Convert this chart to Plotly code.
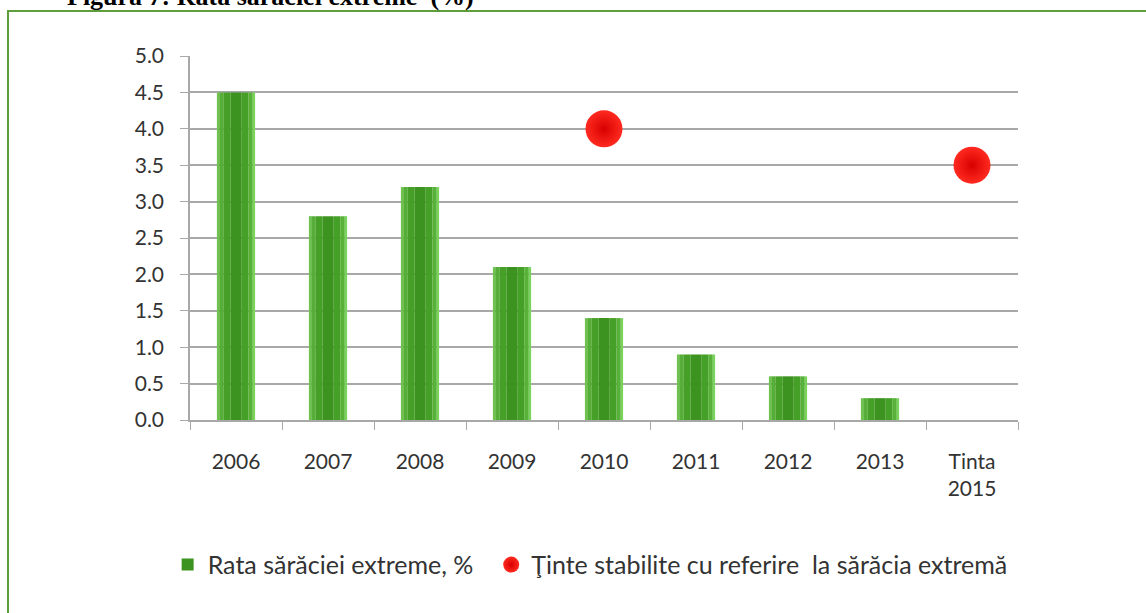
import plotly.graph_objects as go

categories = ["2006", "2007", "2008", "2009", "2010", "2011", "2012", "2013", "Tinta<br>2015"]
rata_saraciei = [4.5, 2.8, 3.2, 2.1, 1.4, 0.9, 0.6, 0.3, None]
tinte = [None, None, None, None, 4.0, None, None, None, 3.5]
y_ticks = [0, 0.5, 1, 1.5, 2, 2.5, 3, 3.5, 4, 4.5, 5]

FONT = "Lato"
TXT = "#333333"
GRID = "#a8a8a8"

fig = go.Figure()

# bar drawn as vertical slices to fake the excel gradient
slices = [
    (0.025, "#6ec24e"),
    (0.05, "#56ae38"),
    (0.075, "#46a028"),
    (0.12, "#3c931f"),
    (0.075, "#44a026"),
    (0.045, "#58b23a"),
    (0.025, "#7ad45c"),
]
off = -sum(w for w, _ in slices) / 2
for i, (w, col) in enumerate(slices):
    fig.add_trace(go.Bar(
        x=categories, y=rata_saraciei,
        offset=off, width=w,
        marker=dict(color=col, line=dict(width=0)),
        name="Rata sărăciei extreme, %\u00a0\u00a0",
        legendgroup="bar", showlegend=(i == 3),
    ))
    off += w

fig.add_trace(go.Scatter(
    x=categories, y=tinte, mode="markers",
    name="Ţinte stabilite cu referire  la sărăcia extremă",
    marker=dict(size=37, color="#ff2a20",
                gradient=dict(type="radial", color="#d80000"),
                line=dict(width=0)),
))

fig.update_layout(
    width=1146, height=613,
    barmode="overlay",
    plot_bgcolor="white", paper_bgcolor="white",
    font=dict(family=FONT, size=21, color=TXT),
    margin=dict(l=190, r=128, t=56, b=193),
    showlegend=True,
    legend=dict(orientation="h", x=-0.027, xanchor="left", y=-0.398, yanchor="middle",
                font=dict(size=25, color=TXT), traceorder="normal"),
    shapes=[dict(type="rect", xref="paper", yref="paper",
                 x0=(8 - 190) / 828, x1=(1200 - 190) / 828,
                 y0=(420 - 700) / 364, y1=(420 - 11) / 364,
                 line=dict(color="#5e9e3c", width=2), layer="below")],
    annotations=[dict(text="<b>Figura 7: Rata sărăciei extreme  (%)</b>",
                      xref="paper", yref="paper",
                      x=(65 - 190) / 828, xanchor="left",
                      y=423 / 364, yanchor="middle",
                      showarrow=False,
                      font=dict(family="Liberation Serif", size=26, color="black"))],
)

fig.update_xaxes(
    type="category", range=[-0.5, len(categories) - 0.5],
    tickson="boundaries", ticks="outside", ticklen=8,
    tickcolor=GRID, showline=True, linecolor=GRID, linewidth=1.5,
    showgrid=False, ticklabelstandoff=22,
)
fig.update_yaxes(
    range=[0, 5], tickvals=y_ticks, tickformat=".1f",
    ticks="outside", ticklen=8, tickcolor=GRID,
    showline=True, linecolor=GRID, linewidth=1.5,
    gridcolor=GRID, gridwidth=1.5, zeroline=False,
    ticklabelstandoff=12,
)

fig.write_html("out.html", config={"displayModeBar": False},
               post_script="document.body.style.margin='0';")
